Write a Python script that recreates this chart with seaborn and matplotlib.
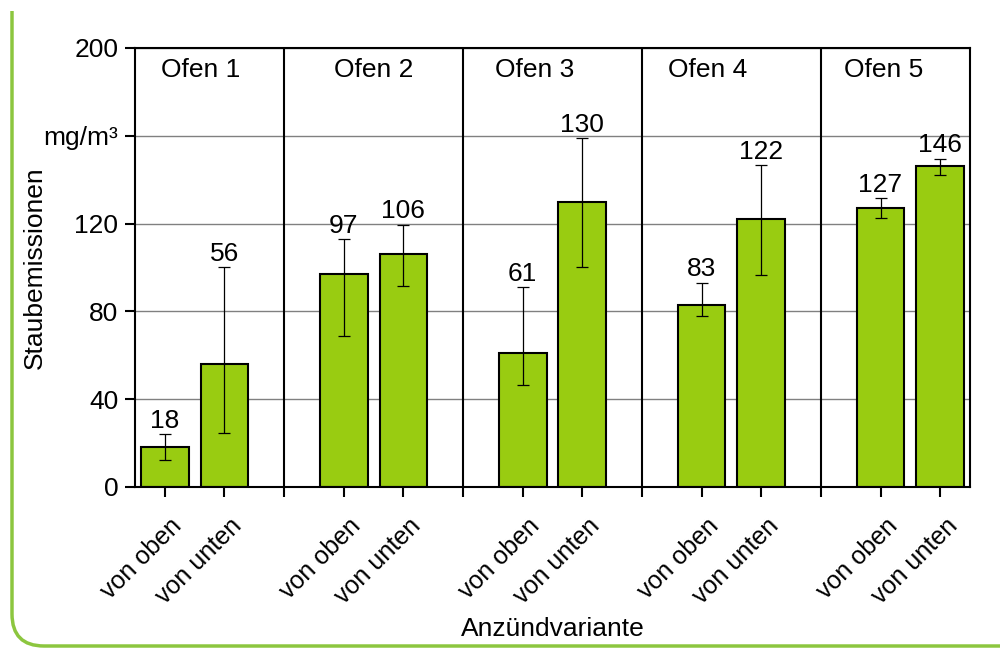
import numpy as np
import pandas as pd
import matplotlib
matplotlib.use("Agg")
import matplotlib.pyplot as plt
from matplotlib.path import Path
from matplotlib.patches import PathPatch
from matplotlib.transforms import IdentityTransform, ScaledTranslation
import seaborn as sns

# values
ofen = ["Ofen 1", "Ofen 2", "Ofen 3", "Ofen 4", "Ofen 5"]
variante = ["von oben", "von unten"]
werte = [18, 56, 97, 106, 61, 130, 83, 122, 127, 146]
fehler_unten = [12.5, 24.5, 69, 91.5, 46.5, 100, 78, 96.5, 122.5, 142]
fehler_oben = [24, 100, 113, 119.5, 91, 159, 93, 146.5, 131.5, 149.5]
y_ticks = [0, 40, 80, 120, 160, 200]
y_ticklabels = ["0", "40", "80", "120", "mg/m³", "200"]

bar_color = "#99cc11"
frame_green = "#8cc63f"
fs = 19

sns.set_style("white")
plt.rcParams["font.family"] = ["Liberation Sans", "DejaVu Sans"]
plt.rcParams["font.size"] = fs
for key in ["text.color", "axes.labelcolor", "xtick.color", "ytick.color"]:
    plt.rcParams[key] = "black"

# two bars per oven, one empty slot between ovens
pos = np.array([3 * g + v for g in range(len(ofen)) for v in range(len(variante))])
df = pd.DataFrame({"pos": pos, "wert": werte,
                   "variante": variante * len(ofen)})

fig, ax = plt.subplots(figsize=(10, 6.48), dpi=100)
fig.subplots_adjust(left=0.135, right=0.970, bottom=0.2485, top=0.926)

sns.barplot(data=df, x="pos", y="wert", native_scale=True, width=0.8,
            color=bar_color, saturation=1, edgecolor="black", linewidth=1.5,
            errorbar=None, ax=ax, zorder=2)

w = np.array(werte, dtype=float)
lo = w - np.array(fehler_unten)
hi = np.array(fehler_oben) - w
ax.errorbar(pos, w, yerr=[lo, hi], fmt="none", ecolor="black",
            elinewidth=0.9, capsize=4.5, capthick=0.9, zorder=3)

for x, v, top in zip(pos, werte, fehler_oben):
    ax.annotate(str(v), (x, top), xytext=(0, 1), textcoords="offset points",
                ha="center", va="bottom", fontsize=fs)

# separators between ovens
seps = [3 * g - 1 for g in range(1, len(ofen))]
for s in seps:
    ax.axvline(s, color="black", lw=1.5, zorder=1)

ofen_x = [0.6, 3.5, 6.2, 9.1, 12.05]
for x, name in zip(ofen_x, ofen):
    ax.text(x, 190, name, ha="center", va="center", fontsize=fs)

ax.set_xlim(-0.5, 13.5)
ax.set_ylim(0, 200)
ax.set_yticks(y_ticks)
ax.set_yticklabels(y_ticklabels)
ax.yaxis.grid(True, color="#808080", lw=1)
ax.set_axisbelow(True)

ax.set_xticks(pos)
ax.set_xticks(seps, minor=True)
ax.tick_params(axis="x", which="major", length=7, width=1.5, pad=8,
               direction="out", bottom=True)
ax.tick_params(axis="x", which="minor", length=7, width=1.5, bottom=True,
               direction="out")
ax.tick_params(axis="y", length=7, width=1.5, pad=5, left=True,
               direction="out", labelsize=fs)
ax.set_xticklabels(df["variante"], rotation=45, ha="right", va="top",
                   rotation_mode="anchor", fontsize=18)
off = ScaledTranslation(3.6 / 72, -4.3 / 72, fig.dpi_scale_trans)
for lab in ax.get_xticklabels():
    lab.set_transform(lab.get_transform() + off)

for sp in ax.spines.values():
    sp.set_visible(True)
    sp.set_color("black")
    sp.set_linewidth(1.5)

ax.set_xlabel("Anzündvariante", fontsize=fs, labelpad=6)
ax.set_ylabel("Staubemissionen", fontsize=fs)
ax.yaxis.set_label_coords(-0.105, 0.5)

# green frame on the left with rounded bottom corner
r = 32
verts = [(12, 637), (12, 2 + r), (12, 2), (12 + r, 2), (1100, 2)]
codes = [Path.MOVETO, Path.LINETO, Path.CURVE3, Path.CURVE3, Path.LINETO]
fig.add_artist(PathPatch(Path(verts, codes), fill=False, edgecolor=frame_green,
                         lw=2.5, transform=IdentityTransform()))

fig.savefig("out.png", dpi=100)
